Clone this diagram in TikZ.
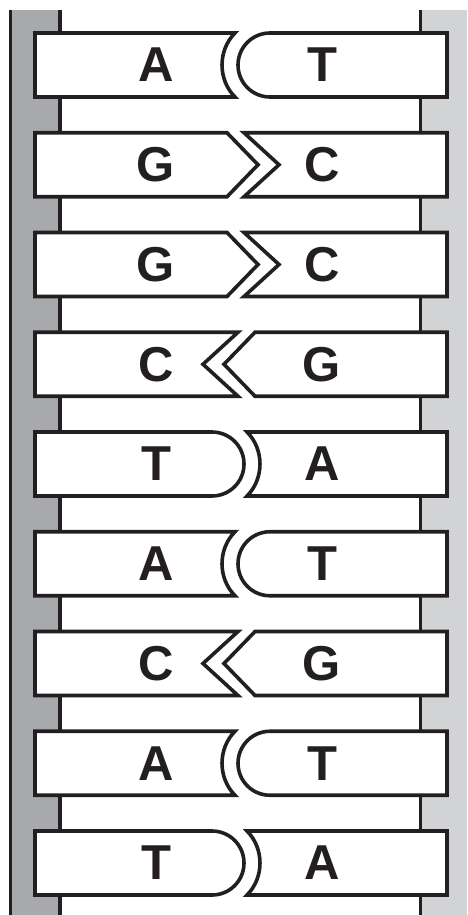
\documentclass[tikz,border=0pt]{standalone}
\usepackage{fontspec}
\setmainfont{Liberation Sans}
\definecolor{ink}{HTML}{231F20}
\definecolor{leftgray}{HTML}{A7A9AC}
\definecolor{rightgray}{HTML}{D1D3D4}
\tikzset{
  basebox/.style={draw=ink, fill=white, line width=3.6pt, line join=miter},
  rail/.style={draw=ink, line width=3.3pt},
  letter/.style={font=\fontsize{49}{49}\selectfont\bfseries, text=ink, inner sep=0pt}
}
% #1 top, #2 left letter, #3 right letter, #4 row id
\newcommand{\rowAT}[4]{%
  \draw[basebox] (35,#1) -- (235,#1) .. controls (217.7,#1+17.3) and (217.7,#1+46.7) .. (235,#1+64) -- (35,#1+64) -- cycle;
  \draw[basebox] (270,#1) -- (447,#1) -- (447,#1+64) -- (270,#1+64) .. controls (252.3,#1+64) and (238,#1+49.7) .. (238,#1+32) .. controls (238,#1+14.3) and (252.3,#1) .. cycle;
  \node[letter] (l#4) at (156,#1+32) {#2};
  \node[letter] (r#4) at (322,#1+32) {#3};
}
\newcommand{\rowTA}[4]{%
  \draw[basebox] (35,#1) -- (212,#1) .. controls (229.7,#1) and (244,#1+14.3) .. (244,#1+32) .. controls (244,#1+49.7) and (229.7,#1+64) .. (212,#1+64) -- (35,#1+64) -- cycle;
  \draw[basebox] (247,#1) -- (447,#1) -- (447,#1+64) -- (247,#1+64) .. controls (264.3,#1+46.7) and (264.3,#1+17.3) .. cycle;
  \node[letter] (l#4) at (156,#1+32) {#2};
  \node[letter] (r#4) at (322,#1+32) {#3};
}
\newcommand{\rowGC}[4]{%
  \draw[basebox] (35,#1) -- (227,#1) -- (258,#1+32) -- (227,#1+64) -- (35,#1+64) -- cycle;
  \draw[basebox] (244,#1) -- (447,#1) -- (447,#1+64) -- (244,#1+64) -- (279,#1+32) -- cycle;
  \node[letter] (l#4) at (156,#1+32) {#2};
  \node[letter] (r#4) at (322,#1+32) {#3};
}
\newcommand{\rowCG}[4]{%
  \draw[basebox] (35,#1) -- (238,#1) -- (203,#1+32) -- (238,#1+64) -- (35,#1+64) -- cycle;
  \draw[basebox] (255,#1) -- (447,#1) -- (447,#1+64) -- (255,#1+64) -- (224,#1+32) -- cycle;
  \node[letter] (l#4) at (156,#1+32) {#2};
  \node[letter] (r#4) at (322,#1+32) {#3};
}
\begin{document}
\begin{tikzpicture}[x=1pt,y=-1pt]
\useasboundingbox (0,0) rectangle (467,915);
% backbones
\fill[leftgray] (10,10) rectangle (60,915);
\fill[rightgray] (420,10) rectangle (467,915);
\coordinate (lt1) at (10.3,10);  \coordinate (lb1) at (10.3,915);
\coordinate (lt2) at (60,10);    \coordinate (lb2) at (60,915);
\coordinate (rt1) at (420.3,10); \coordinate (rb1) at (420.3,915);
\draw[rail] (lt1) -- (lb1);
\draw[rail] (lt2) -- (lb2);
\draw[rail] (rt1) -- (rb1);
% base pairs
\rowAT{33}{A}{T}{1}
\rowGC{132.75}{G}{C}{2}
\rowGC{232.5}{G}{C}{3}
\rowCG{332.25}{C}{G}{4}
\rowTA{432}{T}{A}{5}
\rowAT{531.75}{A}{T}{6}
\rowCG{631.5}{C}{G}{7}
\rowAT{731.25}{A}{T}{8}
\rowTA{831}{T}{A}{9}
\end{tikzpicture}
\end{document}
